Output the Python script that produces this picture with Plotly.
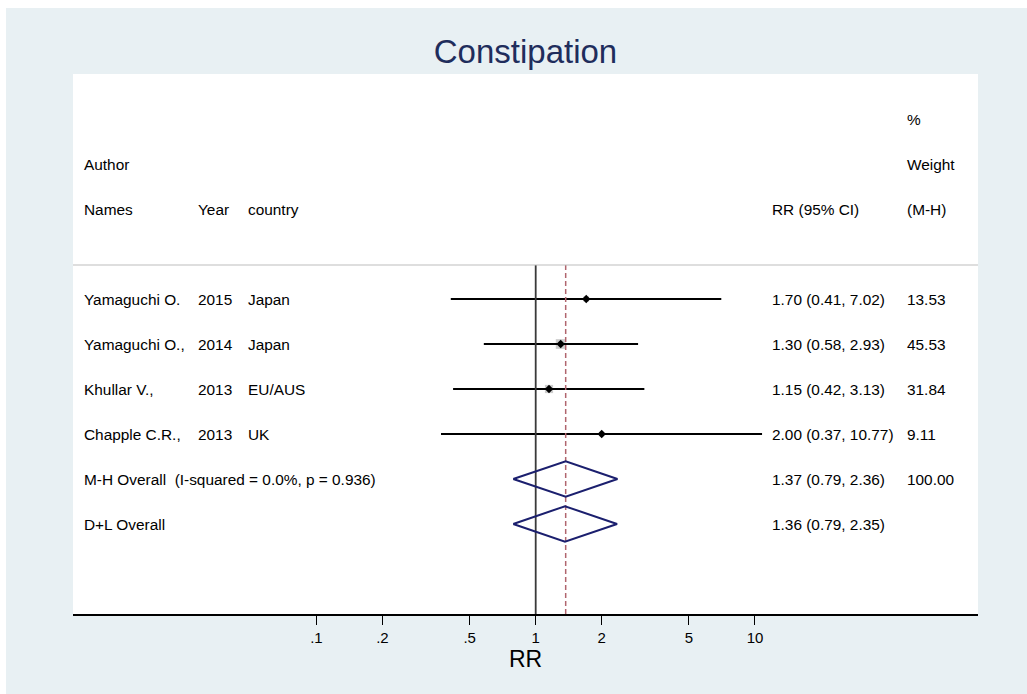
import plotly.graph_objects as go

# ---- study-level data ----
authors = ["Yamaguchi O.", "Yamaguchi O.,", "Khullar V.,", "Chapple C.R.,"]
years = ["2015", "2014", "2013", "2013"]
countries = ["Japan", "Japan", "EU/AUS", "UK"]
rr = [1.70, 1.30, 1.15, 2.00]
ci_low = [0.41, 0.58, 0.42, 0.37]
ci_high = [7.02, 2.93, 3.13, 10.77]
weights = [13.53, 45.53, 31.84, 9.11]

# ---- pooled estimates ----
pooled_labels = ["M-H Overall\u00a0\u00a0(I-squared = 0.0%, p = 0.936)", "D+L Overall"]
pooled_rr = [1.37, 1.36]
pooled_low = [0.79, 0.79]
pooled_high = [2.36, 2.35]
pooled_weight = ["100.00", ""]

null_value = 1.0
tick_vals = [0.1, 0.2, 0.5, 1, 2, 5, 10]
tick_text = [".1", ".2", ".5", "1", "2", "5", "10"]

# ---- layout geometry (pixels) ----
W, H = 1027, 694
L, R, T, B = 73, 49, 74, 80
PW = W - L - R


def xp(px):
    """pixel column -> paper fraction of the plot area"""
    return (px - L) / PW


FONT = "Liberation Sans, Arial, Helvetica, sans-serif"
TXT = 15.4
BG = "#E8F0F3"
NAVY = "#1B1F6E"

study_rows = [5, 6, 7, 8]
pooled_rows = [9, 10]
sep_y = 4.244
y_bottom = 12

fig = go.Figure()

# weight boxes (area proportional to weight)
fig.add_trace(go.Scatter(
    x=rr, y=study_rows, mode="markers",
    marker=dict(symbol="square", size=[1.45 * w ** 0.5 for w in weights],
                color="#B8B8B8", line=dict(width=0)),
    hoverinfo="skip", showlegend=False))

# confidence intervals
for lo, hi, r in zip(ci_low, ci_high, study_rows):
    fig.add_trace(go.Scatter(x=[lo, hi], y=[r, r], mode="lines",
                             line=dict(color="black", width=1.8),
                             hoverinfo="skip", showlegend=False))

# point estimates
fig.add_trace(go.Scatter(
    x=rr, y=study_rows, mode="markers",
    marker=dict(symbol="diamond", size=6.5, color="black"),
    hoverinfo="skip", showlegend=False))

# null line
fig.add_trace(go.Scatter(x=[null_value, null_value], y=[sep_y, y_bottom], mode="lines",
                         line=dict(color="#3A3A3A", width=1.8),
                         hoverinfo="skip", showlegend=False))

# overall effect line
fig.add_trace(go.Scatter(x=[pooled_rr[0], pooled_rr[0]], y=[sep_y, y_bottom], mode="lines",
                         line=dict(color="#B0656D", width=1.5, dash="5px,3px"),
                         hoverinfo="skip", showlegend=False))

# pooled diamonds
half_h = 0.395
for est, lo, hi, r in zip(pooled_rr, pooled_low, pooled_high, pooled_rows):
    fig.add_trace(go.Scatter(
        x=[lo, est, hi, est, lo], y=[r, r - half_h, r, r + half_h, r],
        mode="lines", line=dict(color=NAVY, width=2),
        hoverinfo="skip", showlegend=False))

annotations = []


def label(text, px, y):
    annotations.append(dict(text=text, x=xp(px), y=y, xref="paper", yref="y",
                            xanchor="left", yanchor="middle", showarrow=False,
                            borderpad=0, borderwidth=0,
                            font=dict(family=FONT, size=TXT, color="black")))


# column headers
label("%", 907, 1)
label("Author", 84, 2)
label("Weight", 907, 2)
label("Names", 84, 3)
label("Year", 198, 3)
label("country", 248, 3)
label("RR (95% CI)", 772, 3)
label("(M-H)", 907, 3)

# study rows
for a, yr, c, e, lo, hi, w, r in zip(authors, years, countries, rr, ci_low, ci_high,
                                     weights, study_rows):
    label(a, 84, r)
    label(yr, 198, r)
    label(c, 248, r)
    label(f"{e:.2f} ({lo:.2f}, {hi:.2f})", 772, r)
    label(f"{w:.2f}", 907, r)

# pooled rows
for lab, e, lo, hi, w, r in zip(pooled_labels, pooled_rr, pooled_low, pooled_high,
                                pooled_weight, pooled_rows):
    label(lab, 84, r)
    label(f"{e:.2f} ({lo:.2f}, {hi:.2f})", 772, r)
    if w:
        label(w, 907, r)

shapes = [
    # header separator
    dict(type="line", xref="paper", yref="y", x0=0, x1=1, y0=sep_y, y1=sep_y,
         line=dict(color="#BEBEBE", width=1.2)),
    # thin white frame strips at the top-left edge of the page
    dict(type="rect", xref="paper", yref="paper", x0=-L / PW, x1=(6 - L) / PW,
         y0=-B / (H - T - B), y1=1 + T / (H - T - B), fillcolor="white",
         line=dict(width=0), layer="below"),
    dict(type="rect", xref="paper", yref="paper", x0=-L / PW, x1=1 + R / PW,
         y0=1 + (T - 8) / (H - T - B), y1=1 + T / (H - T - B), fillcolor="white",
         line=dict(width=0), layer="below"),
]

fig.update_layout(
    width=W, height=H,
    margin=dict(l=L, r=R, t=T, b=B),
    paper_bgcolor=BG, plot_bgcolor="white",
    font=dict(family=FONT, size=TXT, color="black"),
    title=dict(text="Constipation", x=0.5, xref="paper", xanchor="center",
               y=1 - 51 / H, yref="container", yanchor="middle",
               font=dict(family=FONT, size=33, color="#1F2D5C")),
    xaxis=dict(type="log", range=[-2.110, 2.017], tickvals=tick_vals, ticktext=tick_text,
               ticks="outside", ticklen=9, tickwidth=1.3, tickcolor="black",
               showline=True, linecolor="black", linewidth=1.6,
               showgrid=False, zeroline=False, fixedrange=True,
               tickfont=dict(family=FONT, size=15, color="black"),
               title=dict(text="RR", font=dict(family=FONT, size=23, color="black"),
                          standoff=0)),
    yaxis=dict(range=[y_bottom, 0], visible=False, showgrid=False, zeroline=False,
               fixedrange=True),
    annotations=annotations,
    shapes=shapes,
    showlegend=False,
)

fig.write_html("out.html")
